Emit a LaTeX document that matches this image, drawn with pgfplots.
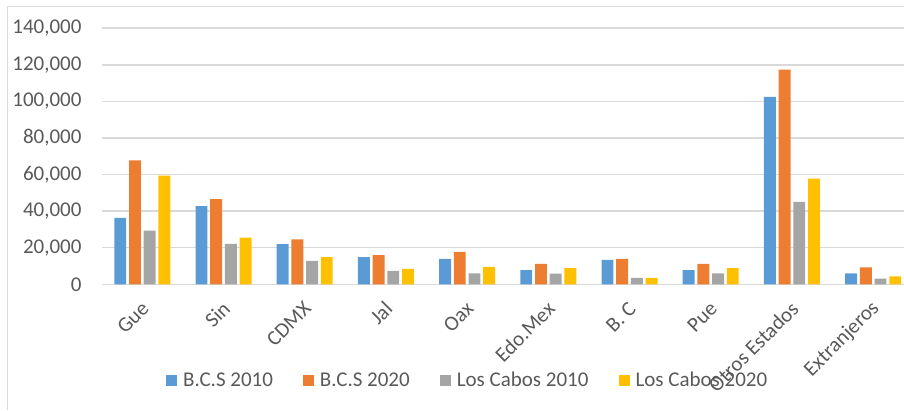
\documentclass[border=0pt]{standalone}
\usepackage{fontspec}
\setmainfont{Carlito}
\usepackage{pgfplots}
\usepackage{pgfplotstable}
\pgfplotsset{compat=1.18}

\definecolor{cblue}{HTML}{5B9BD5}
\definecolor{corange}{HTML}{ED7D31}
\definecolor{cgray}{HTML}{A5A5A5}
\definecolor{cyellow}{HTML}{FFC000}
\definecolor{gridc}{HTML}{D9D9D9}
\definecolor{txt}{HTML}{595959}

% x  bcs2010 bcs2020 lc2010 lc2020
\pgfplotstableread{
x a b c d
0 36300 67800 29300 59400
1 42800 46500 22100 25500
2 21900 24600 12800 14900
3 14900 15900 7300 8400
4 13900 17700 6000 9500
5 7700 11100 5800 8900
6 13300 13900 3500 3500
7 7700 11100 6000 8900
8 102400 117300 45000 57800
9 6000 9300 3100 4400
}\datos

\begin{document}
\begin{tikzpicture}
\draw[gridc, line width=1pt] (7.5pt,0pt) -- (7.5pt,403pt) -- (904pt,403pt);
\begin{axis}[
    at={(101.7pt,125.7pt)}, anchor=south west,
    scale only axis, width=802.3pt, height=256.1pt,
    xmin=-0.5, xmax=9.38, ymin=0, ymax=140000,
    ybar=2.8pt, bar width=11.9pt,
    axis line style={draw=none},
    major tick length=0pt,
    ytick={0,20000,40000,60000,80000,100000,120000,140000},
    yticklabels={0,{20,000},{40,000},{60,000},{80,000},{100,000},{120,000},{140,000}},
    ymajorgrids, grid style={gridc, line width=1.5pt},
    scaled y ticks=false,
    xtick=data,
    xticklabels={Gue,Sin,CDMX,Jal,Oax,Edo.Mex,{B. C},Pue,{Otros Estados},Extranjeros},
    ticklabel style={font=\fontsize{21}{25}\selectfont, text=txt},
    yticklabel style={anchor=east, inner sep=0pt, xshift=-20pt},
    xticklabel style={anchor=east, yshift=-21pt, xshift=3pt, rotate=45, inner sep=0pt},
    legend style={at={(0.455,-0.374)}, anchor=center, draw=none, fill=none,
        legend columns=4, font=\fontsize{21}{25}\selectfont, text=txt,
        nodes={inner sep=0pt},
        /tikz/every odd column/.append style={column sep=6pt},
        /tikz/every even column/.append style={column sep=30pt}},
    legend image code/.code={\fill[#1] (0pt,-5.5pt) rectangle (11pt,5.5pt);},
]
\addplot[draw=none, fill=cblue] table[x=x, y=a] {\datos};
\addlegendentry{B.C.S 2010}
\addplot[draw=none, fill=corange] table[x=x, y=b] {\datos};
\addlegendentry{B.C.S 2020}
\addplot[draw=none, fill=cgray] table[x=x, y=c] {\datos};
\addlegendentry{Los Cabos 2010}
\addplot[draw=none, fill=cyellow] table[x=x, y=d] {\datos};
\addlegendentry{Los Cabos 2020}
\end{axis}
\pgfresetboundingbox
\path[use as bounding box] (0pt,0pt) rectangle (904pt,410pt);
\end{tikzpicture}
\end{document}
